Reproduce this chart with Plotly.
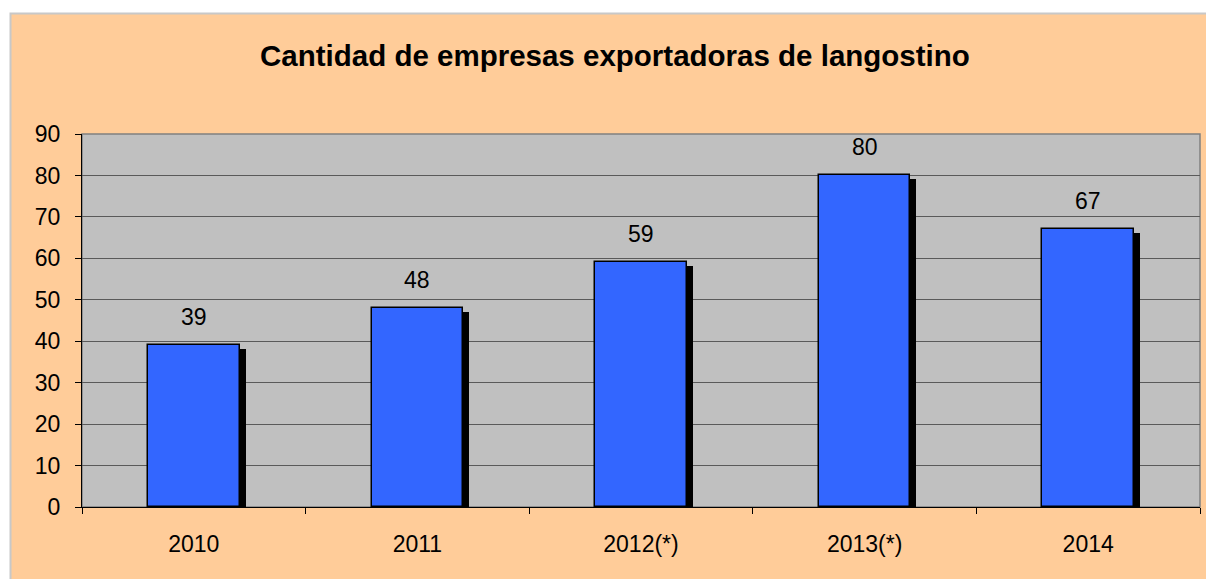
import plotly.graph_objects as go

categories = ["2010", "2011", "2012(*)", "2013(*)", "2014"]
values = [39, 48, 59, 80, 67]
y_ticks = list(range(0, 91, 10))

title = "Cantidad de empresas exportadoras de langostino"

W, H = 1206, 579
ML, MR, MT, MB = 82, 6, 134, 72
plot_w = W - ML - MR
plot_h = H - MT - MB
ymax = 90
bar_w = 0.41
cat_px = plot_w / len(categories)
dx = 6 / cat_px
dy = 4 * ymax / plot_h
FONT = "Liberation Sans, Arial"

fig = go.Figure()
# shadow
fig.add_trace(go.Bar(
    x=categories, y=[v - dy for v in values],
    width=bar_w, offset=-bar_w / 2 + dx,
    marker=dict(color="black", line=dict(width=0)),
    hoverinfo="skip", showlegend=False,
))
# main bars
fig.add_trace(go.Bar(
    x=categories, y=values,
    width=bar_w, offset=-bar_w / 2,
    marker=dict(color="#3366FF", line=dict(color="black", width=1.5)),
    showlegend=False,
))

for i, v in enumerate(values):
    fig.add_annotation(x=i, y=v, text=str(v), showarrow=False,
                       yanchor="middle", yshift=28,
                       font=dict(family=FONT, size=23, color="black"))

fig.add_annotation(xref="paper", yref="paper",
                   x=(615 - ML) / plot_w, y=1 + (MT - 55) / plot_h,
                   text="<b>" + title + "</b>", showarrow=False,
                   xanchor="center", yanchor="middle",
                   font=dict(family=FONT, size=29.5, color="black"))

# chart area background
fig.add_shape(type="rect", xref="paper", yref="paper",
              x0=(10.5 - ML) / plot_w, x1=(W + 5 - ML) / plot_w,
              y0=-(MB + 5) / plot_h, y1=1 + (MT - 13.5) / plot_h,
              fillcolor="#FFCC99", line=dict(color="#C8C8C8", width=2), layer="below")
# plot area
fig.add_shape(type="rect", xref="paper", yref="paper", x0=0, x1=1, y0=0, y1=1,
              line=dict(color="#808080", width=1.5), fillcolor="#C0C0C0", layer="below")

fig.update_layout(
    width=W, height=H,
    margin=dict(l=ML, r=MR, t=MT, b=MB),
    paper_bgcolor="white", plot_bgcolor="#C0C0C0",
    barmode="overlay", bargap=0,
    font=dict(family=FONT, size=23, color="black"),
)
fig.update_xaxes(
    type="category", range=[-0.5, len(categories) - 0.5],
    showline=True, linecolor="black", linewidth=1,
    ticks="outside", tickson="boundaries", ticklen=6, tickcolor="black",
    showgrid=False, ticklabelstandoff=16, tickfont=dict(size=23), tickangle=0,
)
fig.update_yaxes(
    range=[0, ymax], tickvals=y_ticks, showline=True, linecolor="black", linewidth=1,
    ticks="outside", ticklen=6, tickcolor="black", ticklabelstandoff=10,
    showgrid=True, gridcolor="#5a5a5a", gridwidth=1, zeroline=False,
    tickfont=dict(size=23),
)

fig.write_html("out.html", config={"displayModeBar": False},
               post_script="document.body.style.margin='0';document.body.style.overflow='hidden';")
